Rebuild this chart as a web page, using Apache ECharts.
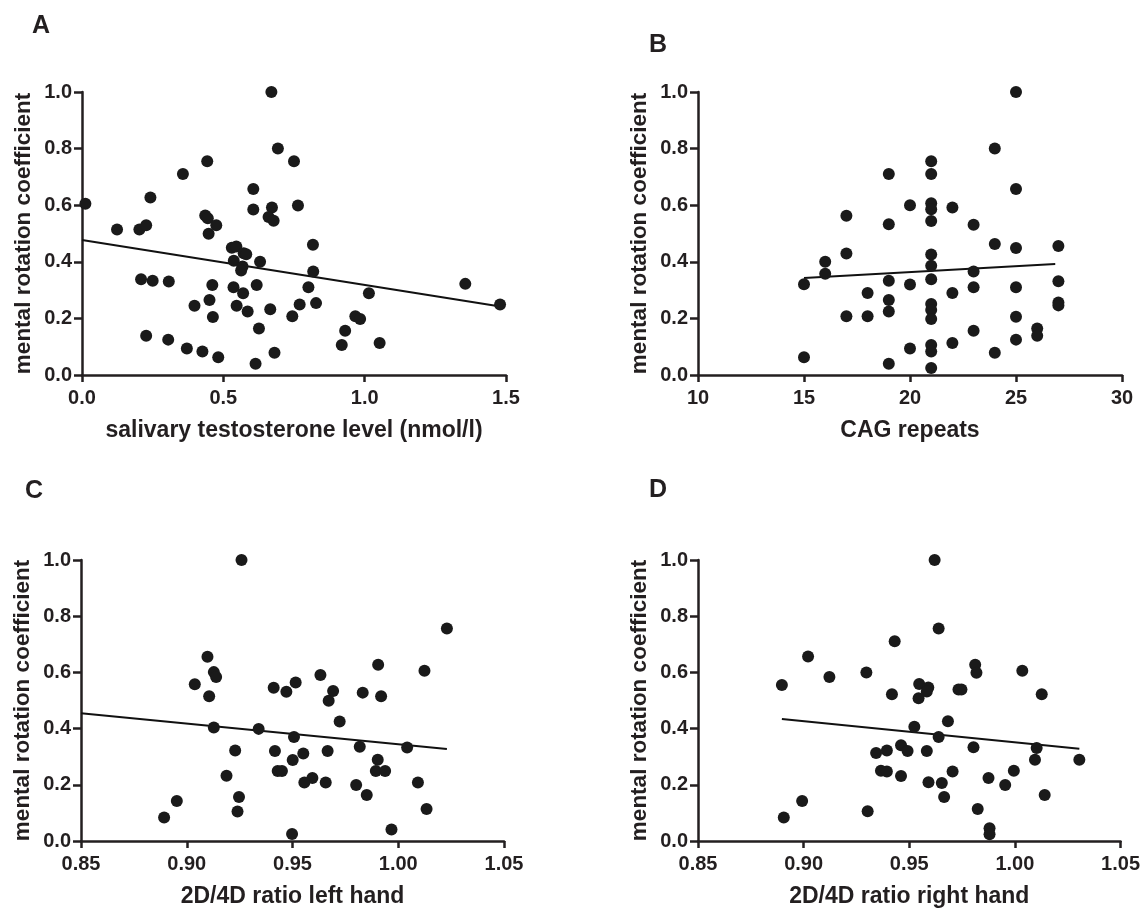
<!DOCTYPE html>
<html>
<head>
<meta charset="utf-8">
<script src="https://cdn.jsdelivr.net/npm/echarts@6/dist/echarts.min.js"></script>
<style>
html,body{margin:0;padding:0;background:#fff;}
#chart{width:1143px;height:909px;}
</style>
</head>
<body>
<div id="chart"></div>
<script>
// Panel A: salivary testosterone vs mental rotation coefficient
const aX = [0.670,0.693,0.443,0.750,0.357,0.606,0.242,0.012,0.764,0.672,0.606,0.436,0.445,0.660,0.678,0.124,0.203,0.227,0.475,0.448,0.530,0.546,0.817,0.572,0.581,0.537,0.630,0.568,0.563,0.818,0.209,0.250,0.307,1.356,0.461,0.618,0.536,0.801,0.570,1.015,0.451,0.398,0.547,0.770,0.828,1.479,0.586,0.666,0.463,0.744,0.967,0.984,0.227,0.626,0.931,0.305,0.919,1.053,0.371,0.426,0.482,0.681,0.614];
const aY = [1.0,0.80,0.755,0.755,0.71,0.657,0.627,0.605,0.599,0.592,0.585,0.564,0.554,0.558,0.545,0.514,0.514,0.529,0.529,0.499,0.450,0.454,0.460,0.430,0.427,0.404,0.400,0.383,0.369,0.366,0.338,0.333,0.330,0.322,0.318,0.318,0.310,0.310,0.289,0.289,0.265,0.245,0.245,0.249,0.254,0.249,0.224,0.232,0.205,0.208,0.208,0.198,0.139,0.164,0.156,0.125,0.106,0.113,0.094,0.083,0.0625,0.079,0.040];
const trendAX = [0.0, 1.48];
const trendAY = [0.477, 0.242];

// Panel B: CAG repeats
const bX = [15,15,16,16,17,17,17,18,18,19,19,19,19,19,19,20,20,20,21,21,21,21,21,21,21,21,21,21,21,21,21,21,22,22,22,23,23,23,23,24,24,24,25,25,25,25,25,25,26,26,27,27,27,27];
const bY = [0.321,0.0625,0.400,0.358,0.5625,0.429,0.208,0.290,0.208,0.710,0.533,0.333,0.265,0.224,0.040,0.600,0.320,0.094,0.755,0.710,0.607,0.586,0.544,0.426,0.386,0.338,0.251,0.230,0.198,0.106,0.083,0.025,0.592,0.290,0.113,0.531,0.366,0.310,0.156,0.80,0.463,0.079,1.0,0.657,0.449,0.310,0.206,0.125,0.164,0.139,0.456,0.331,0.256,0.246];
const trendBX = [15, 26.85];
const trendBY = [0.343, 0.392];

// Panel C: 2D/4D ratio left hand
const cX = [0.9259,1.023,0.9098,0.9905,0.9128,0.9139,1.0124,0.9632,0.9038,0.9515,0.9411,0.9471,0.9692,0.9832,0.9106,0.9919,0.9671,0.9723,0.9128,0.9340,0.9507,0.9818,1.0042,0.9229,0.9417,0.9666,0.9551,0.9501,0.9903,0.9430,0.9450,0.9894,0.9938,0.9188,0.9594,0.9556,0.9657,1.0093,0.9801,0.9851,0.9247,0.8953,0.9240,1.0134,0.8893,0.9968,0.9498];
const cY = [1.0,0.756,0.656,0.627,0.601,0.584,0.606,0.591,0.558,0.564,0.545,0.531,0.534,0.528,0.515,0.515,0.499,0.425,0.404,0.399,0.370,0.335,0.333,0.322,0.320,0.320,0.311,0.288,0.289,0.249,0.249,0.249,0.249,0.232,0.224,0.208,0.208,0.208,0.199,0.164,0.157,0.142,0.105,0.114,0.084,0.041,0.025];
const trendCX = [0.85, 1.023];
const trendCY = [0.455, 0.327];

// Panel D: 2D/4D ratio right hand
const dX = [0.962,0.9639,0.9431,0.9021,0.9812,0.9818,0.9122,0.9297,1.0035,0.8897,0.9547,0.9590,0.9583,0.9733,0.9747,0.9418,1.0127,0.9544,0.9683,0.9524,0.9639,0.9804,1.0103,0.9461,0.9492,0.9394,0.9343,0.9583,1.0095,1.0305,0.9366,0.9394,0.9705,0.9995,0.9461,0.9875,0.9591,0.9654,0.9954,0.9665,1.0141,0.8993,0.9303,0.9824,0.8906,0.9880,0.9880];
const dY = [1.0,0.756,0.711,0.657,0.627,0.599,0.584,0.600,0.606,0.555,0.559,0.546,0.532,0.539,0.539,0.522,0.522,0.508,0.426,0.407,0.370,0.334,0.331,0.341,0.320,0.322,0.313,0.320,0.289,0.289,0.250,0.247,0.247,0.250,0.231,0.224,0.209,0.206,0.199,0.157,0.164,0.142,0.106,0.114,0.084,0.045,0.024];
const trendDX = [0.8897, 1.0305];
const trendDY = [0.434, 0.328];

const panelLetters = ['A','B','C','D'];
const xNames = ['salivary testosterone level (nmol/l)','CAG repeats','2D/4D ratio left hand','2D/4D ratio right hand'];
const yName = 'mental rotation coefficient';
const xMin = [0, 10, 0.85, 0.85];
const xMax = [1.5, 30, 1.05, 1.05];
const xInt = [0.5, 5, 0.05, 0.05];
const xDec = [1, 0, 2, 2];

const FONT = '"Liberation Sans", Arial, Helvetica, sans-serif';
const INK = '#231f20';

const zip = (xs, ys) => xs.map((x, i) => [x, ys[i]]);
const scatterData = [zip(aX, aY), zip(bX, bY), zip(cX, cY), zip(dX, dY)];
const trendData = [zip(trendAX, trendAY), zip(trendBX, trendBY), zip(trendCX, trendCY), zip(trendDX, trendDY)];

const grids = [
  {left: 82, top: 92, width: 424, height: 283},
  {left: 698, top: 92, width: 424, height: 283},
  {left: 81, top: 560, width: 423, height: 283},
  {left: 698, top: 560, width: 424, height: 283}
];

const titlePos = [
  {left: 32, top: 14},
  {left: 649, top: 33},
  {left: 25, top: 479},
  {left: 649, top: 478}
];

const chart = echarts.init(document.getElementById('chart'), null, {renderer: 'canvas'});

const option = {
  backgroundColor: '#ffffff',
  animation: false,
  title: panelLetters.map((t, i) => ({
    text: t, left: titlePos[i].left, top: titlePos[i].top, padding: 0,
    textStyle: {fontSize: 25, fontWeight: 'bold', color: INK, fontFamily: FONT}
  })),
  grid: grids.map(g => Object.assign({containLabel: false}, g)),
  xAxis: grids.map((g, i) => ({
    gridIndex: i, type: 'value', min: xMin[i], max: xMax[i], interval: xInt[i],
    name: xNames[i], nameLocation: 'middle', nameGap: 44,
    nameTextStyle: {fontSize: 23, fontWeight: 'bold', color: INK, fontFamily: FONT},
    axisLine: {show: true, onZero: false, lineStyle: {color: INK, width: 2.5}},
    axisTick: {show: true, length: 7, lineStyle: {color: INK, width: 2.5}},
    axisLabel: {fontSize: 20, fontWeight: 'bold', color: INK, fontFamily: FONT, margin: 13,
      formatter: v => Number(v).toFixed(xDec[i])},
    splitLine: {show: false}
  })),
  yAxis: grids.map((g, i) => ({
    gridIndex: i, type: 'value', min: 0, max: 1, interval: 0.2,
    name: yName, nameLocation: 'middle', nameGap: 47,
    nameTextStyle: {fontSize: 22.5, fontWeight: 'bold', color: INK, fontFamily: FONT},
    axisLine: {show: true, onZero: false, lineStyle: {color: INK, width: 2.5}},
    axisTick: {show: true, length: 8, lineStyle: {color: INK, width: 2.5}},
    axisLabel: {fontSize: 20, fontWeight: 'bold', color: INK, fontFamily: FONT, margin: 10,
      formatter: v => Number(v).toFixed(1)},
    splitLine: {show: false}
  })),
  series: [].concat(
    scatterData.map((d, i) => ({
      type: 'scatter', xAxisIndex: i, yAxisIndex: i, data: d,
      symbol: 'circle', symbolSize: 12, clip: false,
      itemStyle: {color: '#1a1a1a', opacity: 1},
      z: 3
    })),
    trendData.map((d, i) => ({
      type: 'line', xAxisIndex: i, yAxisIndex: i, data: d,
      showSymbol: false, symbol: 'none',
      lineStyle: {color: '#111', width: 2},
      z: 2
    }))
  )
};

chart.setOption(option);
</script>
</body>
</html>
